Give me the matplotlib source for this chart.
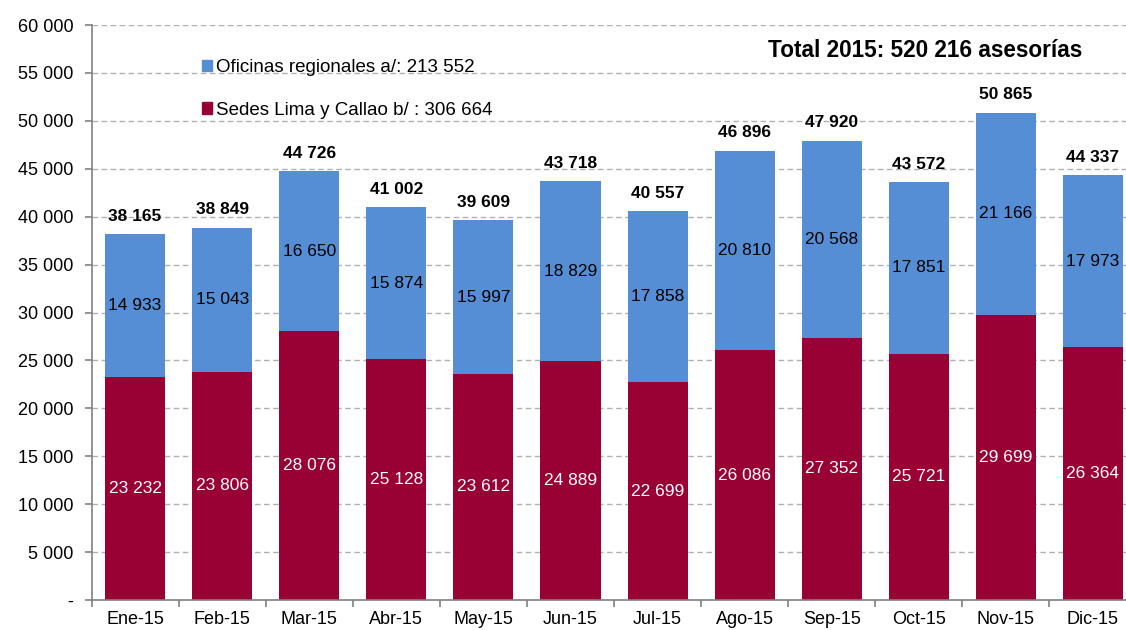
import numpy as np
import matplotlib.pyplot as plt
from matplotlib.patches import Rectangle

plt.rcParams['font.family'] = ['Liberation Sans', 'DejaVu Sans']

meses = ['Ene-15', 'Feb-15', 'Mar-15', 'Abr-15', 'May-15', 'Jun-15',
         'Jul-15', 'Ago-15', 'Sep-15', 'Oct-15', 'Nov-15', 'Dic-15']
sedes = [23232, 23806, 28076, 25128, 23612, 24889, 22699, 26086, 27352, 25721, 29699, 26364]
regionales = [14933, 15043, 16650, 15874, 15997, 18829, 17858, 20810, 20568, 17851, 21166, 17973]

azul = '#558ED5'
rojo = '#990033'


def fmt(v):
    return f'{v:,}'.replace(',', ' ')


fig = plt.figure(figsize=(11.26, 6.3), dpi=100)
# the plot area runs a little past the right edge, like the original
ax = fig.add_axes([0.0813, 0.0476, 0.928, 0.9127])

x = np.arange(len(meses))
total = np.array(sedes) + np.array(regionales)
ax.bar(x, sedes, width=0.69, color=rojo, zorder=2)
ax.bar(x, regionales, bottom=sedes, width=0.69, color=azul, zorder=2)

for i in range(len(meses)):
    ax.text(x[i], sedes[i] / 2, fmt(sedes[i]), ha='center', va='center',
            color='white', fontsize=12.5)
    ax.text(x[i], sedes[i] + regionales[i] / 2, fmt(regionales[i]), ha='center',
            va='center', color='black', fontsize=12.5)
    ax.text(x[i], total[i] + 1100, fmt(int(total[i])), ha='center', va='bottom',
            color='black', fontsize=12.5, fontweight='bold')

ax.set_xlim(-0.5, len(meses) - 0.5)
ax.set_ylim(0, 60000)
yt = np.arange(0, 60001, 5000)
ax.set_yticks(yt)
ax.set_yticklabels(['-'] + [fmt(v) for v in yt[1:]], fontsize=13)
ax.yaxis.grid(True, color='#b0b0b0', linestyle=(0, (4, 2.5)), linewidth=1)
ax.set_axisbelow(True)

ax.set_xticks(x)
ax.set_xticklabels(meses, fontsize=13)
ax.set_xticks(np.arange(-0.5, len(meses)), minor=True)
ax.tick_params(axis='x', which='major', length=0, pad=8)
ax.tick_params(axis='x', which='minor', length=5, color='#808080', width=1.2)
ax.tick_params(axis='y', length=5, color='#808080', width=1.2, pad=8)

for s in ['top', 'right']:
    ax.spines[s].set_visible(False)
for s in ['left', 'bottom']:
    ax.spines[s].set_color('#808080')
    ax.spines[s].set_linewidth(1.2)

h1 = Rectangle((0, 0), 1, 1, color=azul)
h2 = Rectangle((0, 0), 1, 1, color=rojo)
ax.legend([h1, h2], ['Oficinas regionales a/: 213 552', 'Sedes Lima y Callao b/ : 306 664'],
          loc='upper left', bbox_to_anchor=(0.093, 0.963), frameon=False, fontsize=13.5,
          handlelength=0.55, handleheight=0.55, handletextpad=0.2, labelspacing=1.35,
          borderpad=0.2)

ax.text(0.948, 0.955, 'Total 2015: 520 216 asesorías', transform=ax.transAxes,
        ha='right', va='center', fontsize=16.3, fontweight='bold')

fig.savefig('out.png', dpi=100)
